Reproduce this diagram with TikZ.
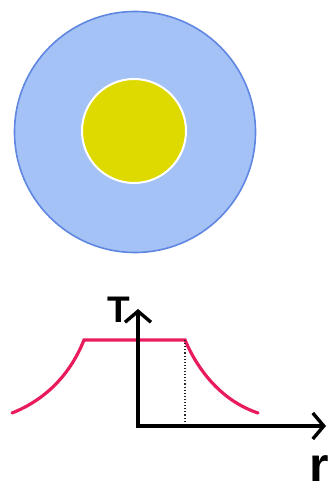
\documentclass[tikz,border=0pt]{standalone}
\usepackage{fontspec}
\setmainfont{Liberation Sans}
\usetikzlibrary{arrows.meta}
\definecolor{shellblue}{RGB}{164,194,246}
\definecolor{shelledge}{RGB}{95,135,225}
\definecolor{coreyellow}{RGB}{222,218,0}
\definecolor{curvered}{RGB}{232,28,92}
\tikzset{
  axisline/.style={line width=3.4pt,-{Straight Barb[length=11pt,width=26pt,line width=3.4pt]}},
  tcurve/.style={line width=3.2pt,curvered,line cap=round},
  axlabel/.style={font=\fontsize{37}{37}\selectfont\bfseries,inner sep=0pt},
}
\begin{document}
\begin{tikzpicture}[x=1pt,y=-1pt]
\useasboundingbox (0,0) rectangle (327,481);
% sphere
\node[circle,minimum size=241pt,inner sep=0pt,fill=shellblue,draw=shelledge,line width=1.6pt] (shell) at (135,132) {};
\node[circle,minimum size=104pt,inner sep=0pt,fill=coreyellow,draw=white,line width=2pt] (core) at (134,131) {};
% graph
\coordinate (O) at (138,426);
\coordinate (ytip) at (138,309);
\coordinate (xtip) at (326,426);
\coordinate (R) at (185,340);
\coordinate (Rb) at (185,428);
\draw[tcurve] (12,413) .. controls (45,400) and (70,375) .. (84,340) -- (R) .. controls (200,375) and (225,402) .. (258,413);
\draw[dotted,line width=1.1pt,black!85] (R) -- (Rb);
\draw[axisline,line cap=round] (O) -- (ytip);
\draw[axisline] ([xshift=-1.7pt]O) -- (xtip);
\node[axlabel,anchor=south] (T) at (119,323) {T};
\node[axlabel,font=\fontsize{50}{50}\selectfont\bfseries,anchor=north west] (r) at (309,455) {r};
\end{tikzpicture}
\end{document}
